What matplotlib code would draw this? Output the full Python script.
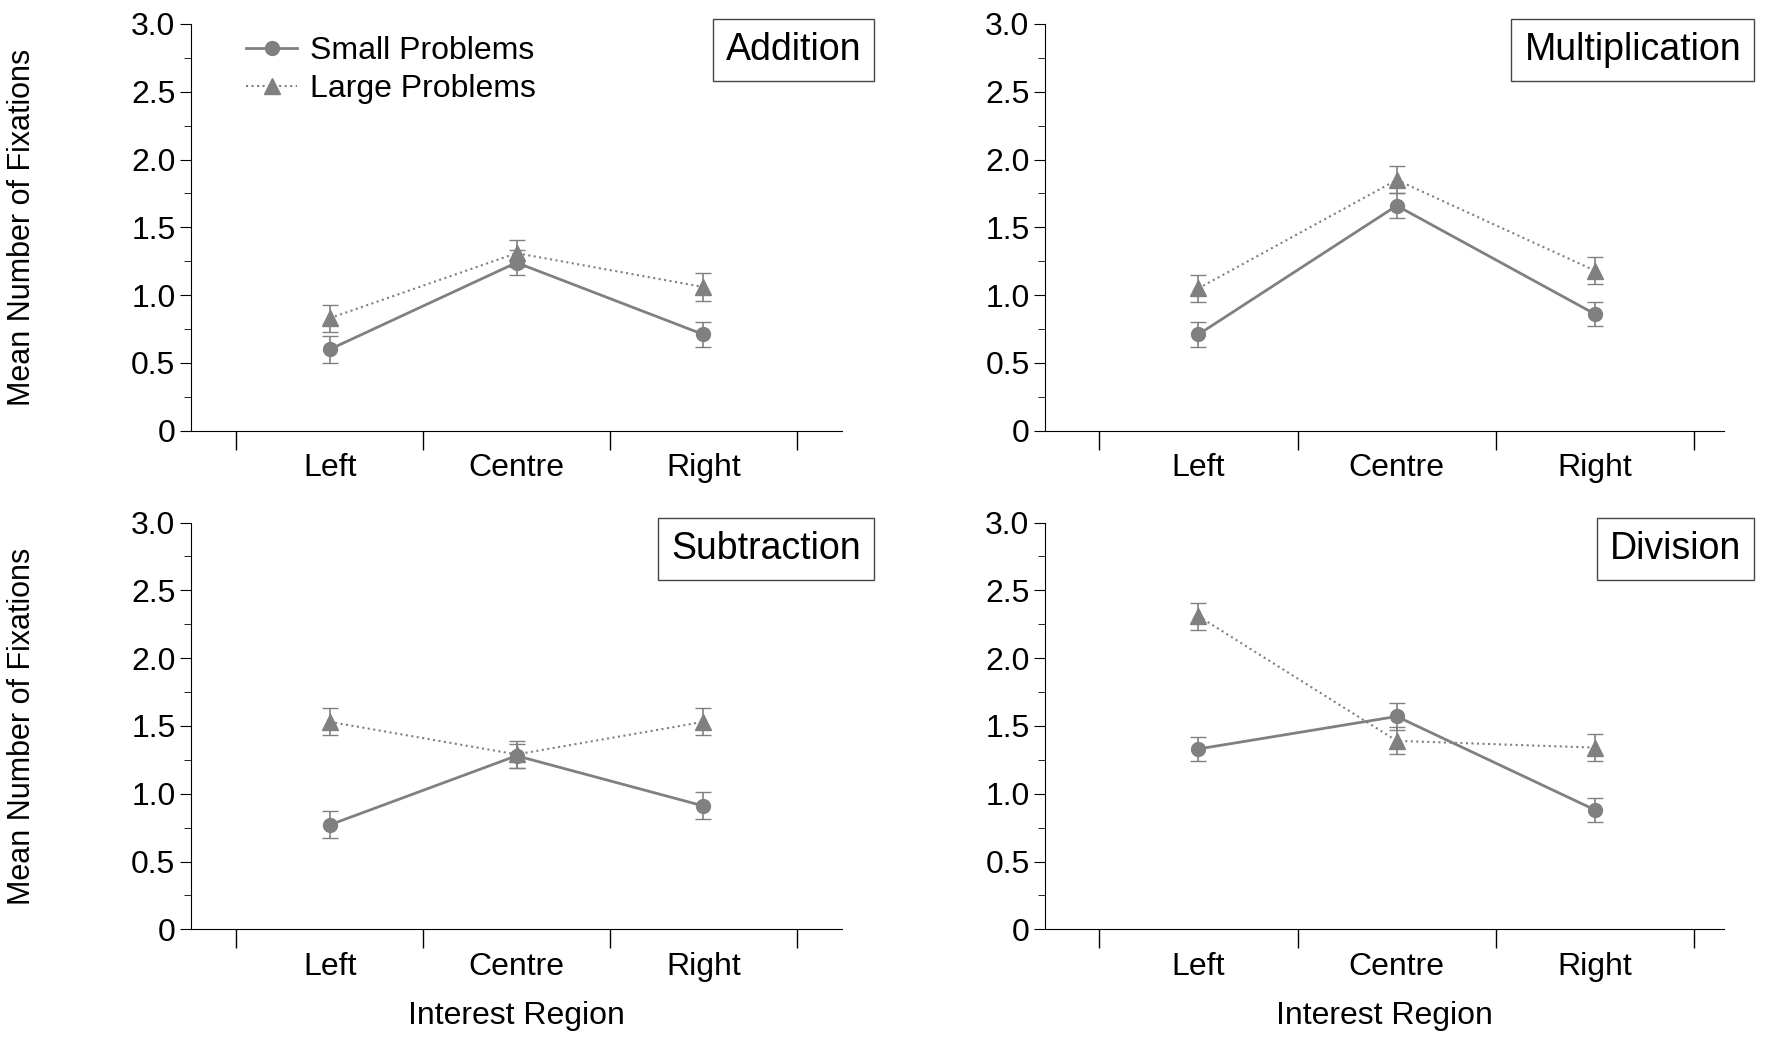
import matplotlib
matplotlib.use("Agg")
import matplotlib.pyplot as plt
from matplotlib.ticker import MultipleLocator
from matplotlib.lines import Line2D

plt.rcParams['font.family'] = ['Liberation Sans', 'DejaVu Sans']

regions = ["Left", "Centre", "Right"]
titles = ["Addition", "Multiplication", "Subtraction", "Division"]
small = {"Addition": [0.60, 1.24, 0.71], "Multiplication": [0.71, 1.66, 0.86],
         "Subtraction": [0.77, 1.28, 0.91], "Division": [1.33, 1.57, 0.88]}
large = {"Addition": [0.83, 1.31, 1.06], "Multiplication": [1.05, 1.85, 1.18],
         "Subtraction": [1.53, 1.29, 1.53], "Division": [2.31, 1.39, 1.34]}
small_err = {"Addition": [0.10, 0.09, 0.09], "Multiplication": [0.09, 0.09, 0.09],
             "Subtraction": [0.10, 0.09, 0.10], "Division": [0.09, 0.10, 0.09]}
large_err = {"Addition": [0.10, 0.10, 0.10], "Multiplication": [0.10, 0.10, 0.10],
             "Subtraction": [0.10, 0.10, 0.10], "Division": [0.10, 0.10, 0.10]}

fig = plt.figure(figsize=(17.72, 10.43), dpi=100)
rects = {"Addition": [0.108, 0.587, 0.367, 0.390],
         "Multiplication": [0.590, 0.587, 0.383, 0.390],
         "Subtraction": [0.108, 0.109, 0.367, 0.390],
         "Division": [0.590, 0.109, 0.383, 0.390]}
col = "#808080"
x = [1, 2, 3]
for i, t in enumerate(titles):
    ax = fig.add_axes(rects[t])
    ax.errorbar(x, small[t], yerr=small_err[t], color=col, marker='o', ms=10,
                lw=2, capsize=6, elinewidth=1.2)
    ax.errorbar(x, large[t], yerr=large_err[t], color=col, marker='^', ms=11,
                lw=1.5, ls=':', capsize=6, elinewidth=1.2)
    if i % 2 == 0:
        ax.set_xlim(0.26, 3.74)
    else:
        ax.set_xlim(0.23, 3.65)
    ax.set_ylim(0, 3.0)
    ax.spines['top'].set_visible(False)
    ax.spines['right'].set_visible(False)
    ax.set_xticks([0.5, 1.5, 2.5, 3.5])
    ax.set_xticklabels([])
    ax.set_xticks(x, minor=True)
    ax.set_xticklabels(regions, minor=True, fontsize=23)
    ax.tick_params(axis='x', which='major', length=14, width=1, direction='out')
    ax.tick_params(axis='x', which='minor', length=0, pad=16)
    ax.yaxis.set_minor_locator(MultipleLocator(0.25))
    ax.set_yticks([0, 0.5, 1.0, 1.5, 2.0, 2.5, 3.0])
    ax.set_yticklabels(["0", "0.5", "1.0", "1.5", "2.0", "2.5", "3.0"], fontsize=23)
    ax.tick_params(axis='y', which='major', length=8)
    ax.tick_params(axis='y', which='minor', length=5)
    ax.text(1.03 if i % 2 == 0 else 1.025, 0.98, t, transform=ax.transAxes,
            ha='right', va='top', fontsize=27,
            bbox=dict(boxstyle='square,pad=0.35', fc='white', ec='#444444', lw=1))
    if i % 2 == 0:
        ax.set_ylabel("Mean Number of Fixations", fontsize=22, labelpad=68)
    if i >= 2:
        ax.set_xlabel("Interest Region", fontsize=23, labelpad=14)
    if i == 0:
        handles = [Line2D([], [], color=col, marker='o', ms=10, lw=2),
                   Line2D([], [], color=col, marker='^', ms=11, lw=1.5, ls=':')]
        ax.legend(handles, ["Small Problems", "Large Problems"], loc='upper left',
                  bbox_to_anchor=(0.04, 1.04), frameon=False,
                  fontsize=23, handlelength=1.6, labelspacing=0.25, handletextpad=0.4)

fig.savefig("out.png", dpi=100)
